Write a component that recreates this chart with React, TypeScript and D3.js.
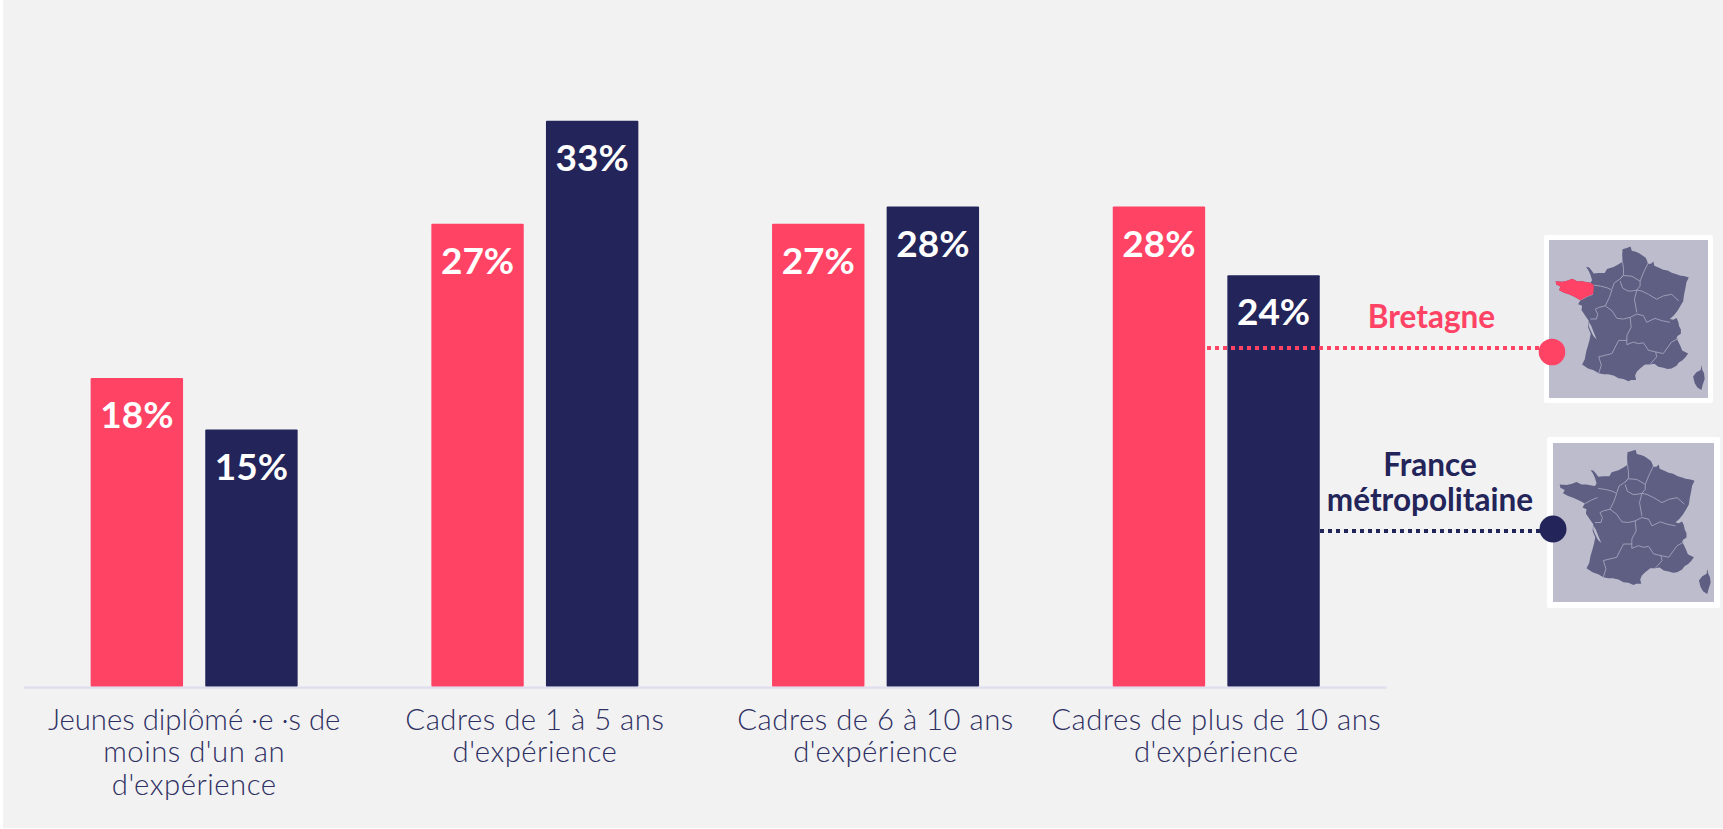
import React from "react";
import * as d3 from "d3";

const categories = [
  ["Jeunes diplômé ·e ·s de", "moins d'un an", "d'expérience"],
  ["Cadres de 1 à 5 ans", "d'expérience"],
  ["Cadres de 6 à 10 ans", "d'expérience"],
  ["Cadres de plus de 10 ans", "d'expérience"],
];
const seriesNames = ["Bretagne", "France métropolitaine"];
const bretagneValues = [18, 27, 27, 28];
const franceValues = [15, 33, 28, 24];

const PINK = "#FF4365";
const NAVY = "#232459";
const MAP_BG = "#BCBCCD";
const MAP_FILL = "#5E5F84";
const MAP_LINE = "#A3A4BD";

type P = [number, number];
// Map outlines in a 480-unit square.
const metropoleOutline: P[] = [
  [112,82],[120,83],[128,92],[135,102],[150,100],[168,100],[175,88],[195,82],[210,74],[222,66],
  [221,45],[222,28],[235,24],[246,20],[250,33],[262,36],[272,40],[282,47],[292,54],[297,65],[298,72],[308,72],[315,65],[318,78],[332,84],[345,90],[358,93],[372,100],[385,104],[395,108],[410,110],[422,114],
  [415,128],[412,145],[408,165],[405,186],[397,200],[388,215],[378,228],[365,240],[375,242],[385,237],[390,248],[393,262],[398,272],[398,285],[388,292],[385,298],[392,312],[398,325],[402,336],[420,345],[412,356],[403,365],[392,372],[385,382],[370,390],[358,392],[345,388],[330,385],[318,376],[305,378],[290,378],[275,390],[265,400],[260,412],[263,425],[248,425],[240,429],[225,422],[210,420],[195,412],[178,408],[165,408],[150,405],[135,396],[118,390],[100,378],[108,362],[112,340],[118,320],[122,305],[126,285],[118,265],[120,245],[108,228],[98,213],[100,200],[88,195],[95,183],
  [75,172],[60,165],[45,160],[30,152],[35,142],[22,135],[20,125],[40,127],[55,124],[70,118],[85,125],[100,125],[115,128],[125,130],[130,122],[125,105],[118,90],
];
const bretagneOutline: P[] = [
  [20,125],[40,127],[55,124],[70,118],[85,125],[100,125],[115,128],[125,130],[135,137],[135,150],[133,165],[115,172],[95,183],[75,172],[60,165],[45,160],[30,152],[35,142],[22,135],
];
const corsicaOutline: P[] = [
  [460,380],[463,395],[468,405],[470,422],[464,440],[460,456],[448,448],[440,435],[435,415],[445,402],[458,395],
];
const gironde: P[] = [[120,248],[128,262],[134,278],[144,302],[134,292],[126,276],[120,262]];
const regionBorders: P[][] = [
  [[222,66],[225,88],[225,106],[215,118],[197,130],[190,150]],
  [[135,137],[155,140],[175,145],[190,152],[182,175],[170,200]],
  [[133,165],[115,172],[95,183]],
  [[170,200],[150,205],[140,210],[147,225],[143,240],[125,240]],
  [[170,200],[190,215],[205,238],[225,240],[245,235]],
  [[215,118],[225,108],[250,110],[275,125],[275,140],[265,152],[250,155],[238,155],[222,146],[215,125]],
  [[298,72],[285,100],[275,125]],
  [[265,152],[280,155],[300,165],[325,180],[345,170],[370,165],[392,185]],
  [[265,152],[258,180],[265,220]],
  [[245,235],[265,225],[285,230],[295,250],[320,238],[340,245],[365,250]],
  [[245,235],[248,265],[235,290],[235,318]],
  [[150,405],[158,380],[150,355],[190,345],[210,305],[235,305]],
  [[235,318],[255,310],[270,315],[285,312],[300,335],[322,340]],
  [[322,340],[345,345],[370,310],[392,298]],
  [[322,340],[325,355],[305,378]],
];

function FranceMap(props: { x: number; y: number; w: number; h: number; border: number; highlight: boolean }) {
  const { x, y, w, h, border, highlight } = props;
  const sx = d3.scaleLinear().domain([0, 480]).range([0, w]);
  const sy = d3.scaleLinear().domain([0, 480]).range([0, h]);
  const line = d3.line<P>().x((d) => sx(d[0])).y((d) => sy(d[1]));
  const closed = (pts: P[]) => (line(pts) as string) + "Z";
  return (
    <g transform={`translate(${x},${y})`}>
      <rect x={-border} y={-border} width={w + 2 * border} height={h + 2 * border} rx={2} fill="#fff" />
      <rect width={w} height={h} fill={MAP_BG} />
      <g filter="url(#soft)">
        <path d={closed(metropoleOutline)} fill={MAP_FILL} />
        <path d={closed(corsicaOutline)} fill={MAP_FILL} />
        <path d={closed(gironde)} fill={MAP_BG} />
        {regionBorders.map((b, i) => (
          <path key={i} d={line(b) as string} fill="none" stroke={MAP_LINE} strokeWidth={0.9} />
        ))}
        {highlight && <path d={closed(bretagneOutline)} fill={PINK} />}
      </g>
    </g>
  );
}

export default function App() {
  const x0 = d3.scaleBand<number>().domain(d3.range(categories.length)).range([23.8, 1386.6]);
  const x1 = d3.scaleBand<string>().domain(seriesNames).range([-103.5, 103.5]).paddingInner(0.1937);
  const y = d3.scaleLinear().domain([0, 33]).range([686.8, 120.8]);
  const series = [
    { name: seriesNames[0], values: bretagneValues, color: PINK },
    { name: seriesNames[1], values: franceValues, color: NAVY },
  ];
  const fontFamily = "Lato, 'Open Sans', sans-serif";

  return (
    <svg width={1723} height={829} style={{ position: "fixed", left: 0, top: 0, display: "block" }} fontFamily={fontFamily}>
      <defs>
        <filter id="soft" x="-5%" y="-5%" width="110%" height="110%">
          <feGaussianBlur stdDeviation="0.3" />
        </filter>
      </defs>
      <rect width={1723} height={829} fill="#fff" />
      <rect x={3} y={0} width={1720} height={828} fill="#F2F2F2" />

      {series.map((s) =>
        s.values.map((v, i) => {
          const cx = (x0(i) as number) + x0.bandwidth() / 2;
          const bx = cx + (x1(s.name) as number);
          return (
            <g key={s.name + i}>
              <rect x={bx} y={y(v)} width={x1.bandwidth()} height={y(0) - y(v)} rx={1} fill={s.color} />
              <text x={bx + x1.bandwidth() / 2} y={y(v) + 50} textAnchor="middle" fill="#fff" fontSize={37} fontWeight={700}>
                {v}%
              </text>
            </g>
          );
        })
      )}

      <line x1={x0.range()[0]} x2={x0.range()[1]} y1={687.6} y2={687.6} stroke="#DADAEE" strokeOpacity={0.85} strokeWidth={2.4} />

      {categories.map((lines, i) => (
        <text key={i} textAnchor="middle" fill="#2E2F62" fontSize={29.3} fontWeight={300}>
          {lines.map((l, j) => (
            <tspan
              key={j}
              x={(x0(i) as number) + x0.bandwidth() / 2}
              y={729.5 + j * 32.5}
              letterSpacing={i === 0 && j === 0 ? 0 : 0.5}
            >
              {l}
            </tspan>
          ))}
        </text>
      ))}

      <FranceMap x={1549} y={240} w={159} h={158} border={5} highlight={true} />
      <FranceMap x={1553} y={443} w={161} h={159} border={6} highlight={false} />

      <line x1={1207} x2={1540} y1={348} y2={348} stroke={PINK} strokeWidth={4} strokeDasharray="4 4" />
      <circle cx={1552} cy={352} r={13.3} fill={PINK} />
      <line x1={1320} x2={1540} y1={531} y2={531} stroke={NAVY} strokeWidth={4} strokeDasharray="4 4" />
      <circle cx={1553} cy={529} r={13.5} fill={NAVY} />

      <text x={1431.5} y={328} textAnchor="middle" fontSize={31.5} fontWeight={700} fill={PINK}>Bretagne</text>
      <text textAnchor="middle" fontSize={31.5} fontWeight={700} fill={NAVY}>
        <tspan x={1430} y={476}>France</tspan>
        <tspan x={1430} y={511}>métropolitaine</tspan>
      </text>
    </svg>
  );
}
